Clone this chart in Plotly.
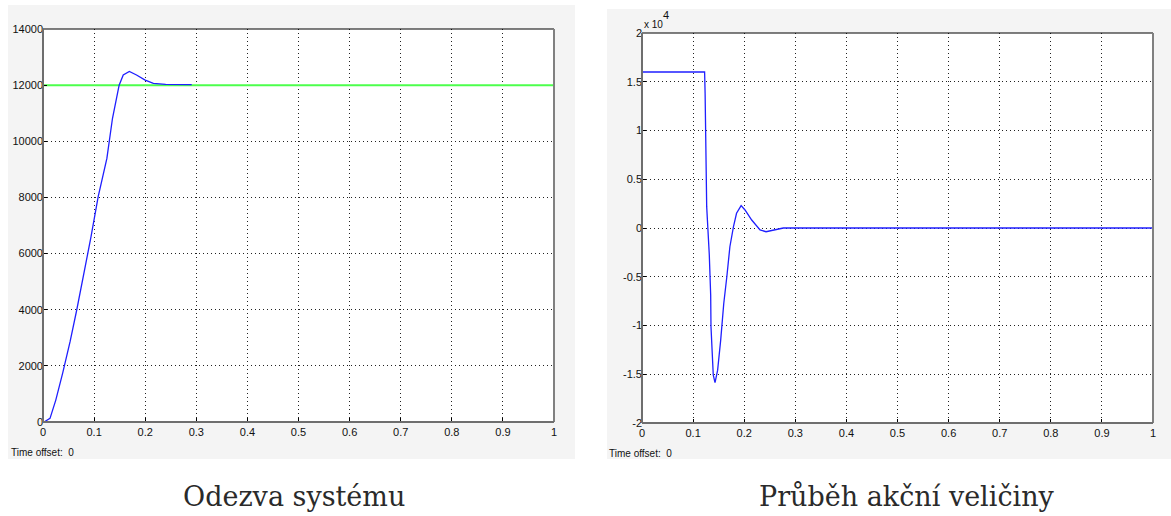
import plotly.graph_objects as go

# ---- data ----
resp_t = [0, 0.002, 0.0137, 0.025, 0.0385, 0.053, 0.066, 0.082, 0.094, 0.108, 0.125,
          0.136, 0.149, 0.157, 0.169, 0.183, 0.2, 0.216, 0.24, 0.291]
resp_y = [0, 0, 130, 780, 1740, 2860, 3990, 5410, 6600, 8030, 9390,
          10820, 12000, 12360, 12490, 12360, 12180, 12060, 12030, 12020]
ref_t = [0, 1]
ref_y = [12000, 12000]

u_t = [0, 0.1225, 0.1235, 0.1252, 0.1266, 0.1317, 0.1344, 0.135, 0.1376, 0.1395, 0.1429,
       0.148, 0.154, 0.160, 0.166, 0.172, 0.179, 0.185, 0.194, 0.2016, 0.2147,
       0.231, 0.2427, 0.26, 0.2765, 1.0]
u_y = [16000, 16000, 13830, 8010, 2190, -2770, -6880, -10130, -12530, -15100, -15850,
       -14580, -11500, -7740, -5000, -1920, 130, 1510, 2290, 1850, 820,
       -200, -380, -200, 0, 0]

x_ticks = [0, 0.1, 0.2, 0.3, 0.4, 0.5, 0.6, 0.7, 0.8, 0.9, 1]
x_labels = ["0", "0.1", "0.2", "0.3", "0.4", "0.5", "0.6", "0.7", "0.8", "0.9", "1"]
y1_ticks = [0, 2000, 4000, 6000, 8000, 10000, 12000, 14000]
y1_labels = ["0", "2000", "4000", "6000", "8000", "10000", "12000", "14000"]
y2_ticks = [-20000, -15000, -10000, -5000, 0, 5000, 10000, 15000, 20000]
y2_labels = ["-2", "-1.5", "-1", "-0.5", "0", "0.5", "1", "1.5", "2"]

captions = ["Odezva systému", "Průběh akční veličiny"]

W, H = 1171, 516
BLUE = "#1f1fff"
GREEN = "#4cff4c"
TICKFONT = dict(family="Liberation Sans, Arial, sans-serif", size=11, color="#111")

fig = go.Figure()
fig.add_trace(go.Scatter(x=ref_t, y=ref_y, mode="lines", line=dict(color=GREEN, width=2),
                         xaxis="x", yaxis="y", showlegend=False, hoverinfo="skip"))
fig.add_trace(go.Scatter(x=resp_t, y=resp_y, mode="lines", line=dict(color=BLUE, width=1.3),
                         xaxis="x", yaxis="y", showlegend=False))
fig.add_trace(go.Scatter(x=u_t, y=u_y, mode="lines", line=dict(color=BLUE, width=1.3),
                         xaxis="x2", yaxis="y2", showlegend=False))

def px(v):
    return v / W

def py(v):
    return 1 - v / H

common_x = dict(range=[0, 1], tickmode="array", tickvals=x_ticks, ticktext=x_labels,
                showgrid=True, gridcolor="#222", griddash="1px,3px", gridwidth=1,
                ticks="inside", ticklen=4, tickcolor="#000", showline=False,
                zeroline=False, tickfont=TICKFONT, fixedrange=True, automargin=False,
                ticklabelstandoff=2)
common_y = dict(showgrid=True, gridcolor="#222", griddash="1px,3px", gridwidth=1,
                ticks="inside", ticklen=4, tickcolor="#000", showline=False,
                zeroline=False, tickfont=TICKFONT, tickmode="array", fixedrange=True,
                automargin=False, ticklabelstandoff=-1)

fig.update_layout(
    template="none",
    width=W, height=H, margin=dict(l=0, r=0, t=0, b=0, pad=0, autoexpand=False),
    paper_bgcolor="white", plot_bgcolor="white",
    xaxis=dict(domain=[px(43), px(554)], anchor="y", **common_x),
    yaxis=dict(domain=[py(422), py(29)], anchor="x", range=[0, 14000],
               tickvals=y1_ticks, ticktext=y1_labels, **common_y),
    xaxis2=dict(domain=[px(642), px(1153)], anchor="y2", **common_x),
    yaxis2=dict(domain=[py(423), py(33)], anchor="x2", range=[-20000, 20000],
                tickvals=y2_ticks, ticktext=y2_labels, **common_y),
)

shapes = []
# grey figure panels
for (x0, y0, x1, y1) in [(8, 5, 575, 459), (607, 9, 1171, 459)]:
    shapes.append(dict(type="rect", xref="paper", yref="paper", layer="below",
                       x0=px(x0), x1=px(x1), y0=py(y1), y1=py(y0),
                       fillcolor="#f4f4f4", line=dict(width=0)))
# axes boxes
for xa, ya in [("x", "y"), ("x2", "y2")]:
    xd, yd = xa + " domain", ya + " domain"
    shapes.append(dict(type="rect", xref=xd, yref=yd, x0=0, x1=1, y0=0, y1=1,
                       layer="below", fillcolor="white", line=dict(width=0)))
    shapes.append(dict(type="line", xref=xd, yref=yd, x0=0, x1=1, y0=1, y1=1,
                       line=dict(color="#000", width=1.2)))
    shapes.append(dict(type="line", xref=xd, yref=yd, x0=1, x1=1, y0=0, y1=1,
                       line=dict(color="#808080", width=2)))
    shapes.append(dict(type="line", xref=xd, yref=yd, x0=0, x1=1, y0=0, y1=0,
                       line=dict(color="#6e6e6e", width=2)))
    shapes.append(dict(type="line", xref=xd, yref=yd, x0=0, x1=0, y0=0, y1=1,
                       line=dict(color="#6e6e6e", width=2)))
fig.update_layout(shapes=shapes)

ann = []
SMALL = dict(family="Liberation Sans, Arial, sans-serif", size=10, color="#111")
ann.append(dict(xref="paper", yref="paper", x=px(9), y=py(452), text="Time offset:  0",
                showarrow=False, xanchor="left", yanchor="middle", font=SMALL))
ann.append(dict(xref="paper", yref="paper", x=px(607), y=py(453), text="Time offset:  0",
                showarrow=False, xanchor="left", yanchor="middle", font=SMALL))
ann.append(dict(xref="paper", yref="paper", x=px(642), y=py(25), text="x 10",
                showarrow=False, xanchor="left", yanchor="middle",
                font=dict(family="Liberation Sans, Arial, sans-serif", size=10, color="#111")))
ann.append(dict(xref="paper", yref="paper", x=px(661), y=py(15), text="4",
                showarrow=False, xanchor="left", yanchor="middle",
                font=dict(family="Liberation Sans, Arial, sans-serif", size=11, color="#111")))
CAP = dict(family="DejaVu Serif, serif", size=27, color="#2a2a2a")
ann.append(dict(xref="paper", yref="paper", x=px(294), y=py(496), text=captions[0],
                showarrow=False, xanchor="center", yanchor="middle", font=CAP))
ann.append(dict(xref="paper", yref="paper", x=px(907), y=py(496), text=captions[1],
                showarrow=False, xanchor="center", yanchor="middle", font=CAP))
fig.update_layout(annotations=ann)

fig.write_html("out.html", config={"displayModeBar": False},
               post_script="document.body.style.margin='0';document.body.style.overflow='hidden';")
